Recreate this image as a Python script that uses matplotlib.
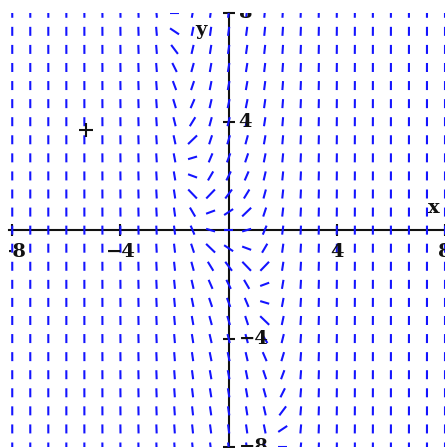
import numpy as np
import matplotlib
matplotlib.use("Agg")
import matplotlib.pyplot as plt
import matplotlib.transforms as mtransforms
from matplotlib.collections import LineCollection

# Direction field of dy/dx = x^3 + y on a 25 x 25 grid
grid_x = np.linspace(-8, 8, 25)
grid_y = np.linspace(-8, 8, 25)

x_ticks = [-8, -4, 4, 8]
x_tick_labels = ["\u22128", "\u22124", "4", "8"]
y_ticks = [-8, -4, 4, 8]
y_tick_labels = ["\u22128", "\u22124", "4", "8"]

cursor_x = [-5.26]
cursor_y = [3.69]


def slope(x, y):
    return x ** 3 + y


W, H, DPI = 445, 448, 100
fig = plt.figure(figsize=(W / DPI, H / DPI), dpi=DPI)
fig.patch.set_facecolor("white")

# viewing window
ax = fig.add_axes([9 / W, 1 / H, 436 / W, 434 / H])
ax.set_xlim(-8.12, 7.97)
ax.set_ylim(-8.0, 8.01)
ax.set_facecolor("white")

# axes through the origin
for side in ("top", "right"):
    ax.spines[side].set_visible(False)
ax.spines["left"].set_position(("data", 0))
ax.spines["bottom"].set_position(("data", 0))
for side in ("left", "bottom"):
    ax.spines[side].set_linewidth(1.5)
    ax.spines[side].set_color("#111111")
    ax.spines[side].set_zorder(2)
ax.set_xticks(x_ticks)
ax.set_yticks(y_ticks)
ax.tick_params(direction="inout", length=8, width=1.5, color="#111111",
               labelbottom=False, labelleft=False)

# short line segments, normalised to a small square box
half = 4.5 / 27.1
segs = []
for xv in grid_x:
    for yv in grid_y:
        m = slope(xv, yv)
        if abs(m) <= 1:
            dx, dy = half, m * half
        else:
            dx, dy = half / abs(m) * np.sign(m), half
        segs.append([(xv - dx, yv - dy), (xv + dx, yv + dy)])
lc = LineCollection(segs, colors="#1414ff", linewidths=1.5, zorder=3,
                    capstyle="butt")
ax.add_collection(lc)

label_font = dict(family="DejaVu Serif", fontweight="bold", fontsize=14,
                  color="#111111", clip_on=True, zorder=4)

below = mtransforms.offset_copy(ax.transData, fig=fig, x=0, y=-22, units="dots")
for xv, lab in zip(x_ticks, x_tick_labels):
    ax.text(xv, 0, lab, transform=below, ha="center", va="center", **label_font)

right = mtransforms.offset_copy(ax.transData, fig=fig, x=10, y=0, units="dots")
for yv, lab in zip(y_ticks, y_tick_labels):
    ax.text(0, yv, lab, transform=right, ha="left", va="center", **label_font)

ax.text(7.6, 0.81, "x", ha="center", va="center", **label_font)
ax.text(-1.03, 7.38, "y", ha="center", va="center", **label_font)

# trace cursor
ax.plot(cursor_x, cursor_y, ls="none", marker="+", ms=10, mew=1.5,
        color="#111111", zorder=5)

fig.savefig("out.png", dpi=DPI, facecolor="white")
